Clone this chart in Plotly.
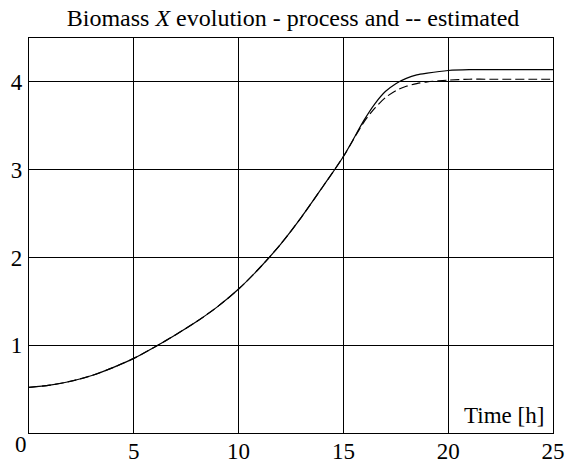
import plotly.graph_objects as go

# Data
time_h = [0, 1, 2, 3, 4, 5, 6, 7, 8, 9, 10, 11, 12, 13, 14, 15, 16, 16.5, 17, 17.5, 18, 18.5, 19, 20, 21, 22, 23, 24, 25]
biomass_process = [0.52, 0.545, 0.59, 0.655, 0.745, 0.85, 0.98, 1.12, 1.27, 1.44, 1.64, 1.88, 2.15, 2.46, 2.80, 3.15,
                   3.57, 3.75, 3.89, 3.98, 4.04, 4.08, 4.10, 4.13, 4.14, 4.14, 4.14, 4.14, 4.14]
biomass_estimated = [0.52, 0.545, 0.59, 0.655, 0.745, 0.85, 0.98, 1.12, 1.27, 1.44, 1.64, 1.88, 2.15, 2.46, 2.80, 3.15,
                     3.55, 3.70, 3.82, 3.90, 3.95, 3.98, 4.00, 4.02, 4.03, 4.03, 4.03, 4.03, 4.03]
x_ticks = [5, 10, 15, 20, 25]
y_ticks = [1, 2, 3, 4]

FONT = "Liberation Serif"

fig = go.Figure()
fig.add_trace(go.Scatter(x=time_h, y=biomass_process, mode="lines",
                         line=dict(color="black", width=1.2, shape="spline", smoothing=0.8), name="process"))
fig.add_trace(go.Scatter(x=time_h, y=biomass_estimated, mode="lines",
                         line=dict(color="black", width=1.2, dash="9px,4px", shape="spline", smoothing=0.8),
                         name="estimated"))

fig.update_layout(
    width=568, height=463,
    margin=dict(l=29, r=15, t=38, b=29.5),
    paper_bgcolor="white", plot_bgcolor="white",
    showlegend=False,
    font=dict(family=FONT, color="black", size=23),
    title=dict(text="Biomass <i>X</i> evolution - process and -- estimated",
               x=293 / 568, xanchor="center", y=1 - 18 / 463, yanchor="middle",
               font=dict(family=FONT, size=24, color="black")),
)
fig.update_xaxes(range=[0, 25], tickvals=x_ticks, showgrid=True, gridcolor="black", gridwidth=1,
                 showline=True, linecolor="black", linewidth=1.2, mirror=True, zeroline=False,
                 ticks="", automargin=False, ticklabelstandoff=-3,
                 tickfont=dict(family=FONT, size=23, color="black"))
fig.update_yaxes(range=[0, 4.5], tickvals=y_ticks, showgrid=True, gridcolor="black", gridwidth=1,
                 showline=True, linecolor="black", linewidth=1.2, mirror=True, zeroline=False,
                 ticks="outside", ticklen=1, tickcolor="rgba(0,0,0,0)", automargin=False,
                 tickfont=dict(family=FONT, size=23, color="black"))

fig.add_annotation(text="Time [h]", xref="paper", yref="paper", x=0.987, y=0.044,
                   xanchor="right", yanchor="middle", showarrow=False,
                   font=dict(family=FONT, size=23, color="black"))
fig.add_annotation(text="0", xref="paper", yref="paper", x=-0.016, y=-0.03,
                   xanchor="center", yanchor="middle", showarrow=False,
                   font=dict(family=FONT, size=23, color="black"))

fig.write_html("out.html", config={"displayModeBar": False},
               post_script="document.body.style.margin='0';document.body.style.padding='0';")
